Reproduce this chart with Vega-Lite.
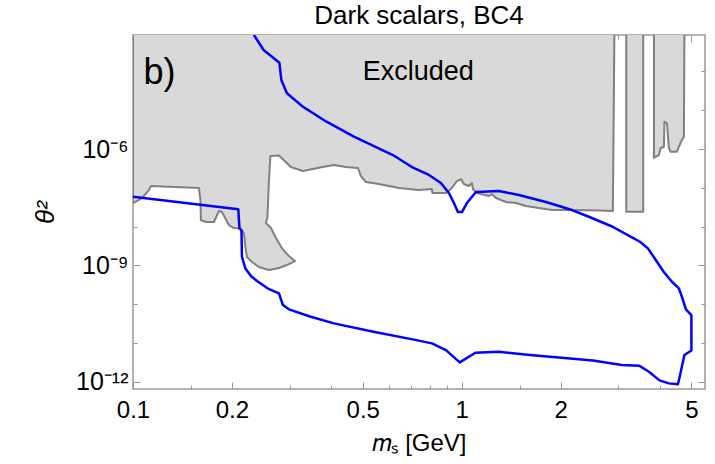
{
  "$schema": "https://vega.github.io/schema/vega-lite/v6.json",
  "autosize": "none",
  "width": 572,
  "height": 354,
  "padding": {"left": 133, "top": 35, "right": 10, "bottom": 75},
  "config": {"view": {"stroke": "#999999", "strokeWidth": 1.5}, "font": "Liberation Sans"},
  "title": {"text": "Dark scalars, BC4", "fontSize": 26, "font": "Liberation Sans", "fontWeight": "normal", "color": "#000000", "baseline": "bottom", "offset": 4, "dy": 24, "anchor": "middle"},
  "datasets": {
    "gray": [
      {"poly": "A", "i": 0, "m": 0.1, "t": 8.7e-4},
      {"poly": "A", "i": 1, "m": 0.1, "t": 4.05e-8},
      {"poly": "A", "i": 2, "m": 0.1065, "t": 5.45e-8},
      {"poly": "A", "i": 3, "m": 0.1118, "t": 8.76e-8},
      {"poly": "A", "i": 4, "m": 0.1134, "t": 1.11e-7},
      {"poly": "A", "i": 5, "m": 0.1587, "t": 9.87e-8},
      {"poly": "A", "i": 6, "m": 0.1604, "t": 4.84e-8},
      {"poly": "A", "i": 7, "m": 0.1609, "t": 1.476e-8},
      {"poly": "A", "i": 8, "m": 0.1667, "t": 1.311e-8},
      {"poly": "A", "i": 9, "m": 0.1763, "t": 1.311e-8},
      {"poly": "A", "i": 10, "m": 0.1826, "t": 2.52e-8},
      {"poly": "A", "i": 11, "m": 0.1865, "t": 2.37e-8},
      {"poly": "A", "i": 12, "m": 0.1958, "t": 1.097e-8},
      {"poly": "A", "i": 13, "m": 0.2028, "t": 9.18e-9},
      {"poly": "A", "i": 14, "m": 0.2101, "t": 8.91e-9},
      {"poly": "A", "i": 15, "m": 0.2146, "t": 8.15e-9},
      {"poly": "A", "i": 16, "m": 0.2176, "t": 6.43e-9},
      {"poly": "A", "i": 17, "m": 0.2198, "t": 2.97e-9},
      {"poly": "A", "i": 18, "m": 0.2222, "t": 1.64e-9},
      {"poly": "A", "i": 19, "m": 0.2301, "t": 1.22e-9},
      {"poly": "A", "i": 20, "m": 0.2415, "t": 9.06e-10},
      {"poly": "A", "i": 21, "m": 0.2592, "t": 7.58e-10},
      {"poly": "A", "i": 22, "m": 0.278, "t": 8.54e-10},
      {"poly": "A", "i": 23, "m": 0.2939, "t": 1.02e-9},
      {"poly": "A", "i": 24, "m": 0.311, "t": 1.294e-9},
      {"poly": "A", "i": 25, "m": 0.2981, "t": 1.74e-9},
      {"poly": "A", "i": 26, "m": 0.2838, "t": 2.8e-9},
      {"poly": "A", "i": 27, "m": 0.2722, "t": 5.07e-9},
      {"poly": "A", "i": 28, "m": 0.2629, "t": 9.18e-9},
      {"poly": "A", "i": 29, "m": 0.2538, "t": 1.235e-8},
      {"poly": "A", "i": 30, "m": 0.2565, "t": 1.764e-8},
      {"poly": "A", "i": 31, "m": 0.2592, "t": 1.587e-7},
      {"poly": "A", "i": 32, "m": 0.2619, "t": 6.6e-7},
      {"poly": "A", "i": 33, "m": 0.278, "t": 6.8e-7},
      {"poly": "A", "i": 34, "m": 0.3023, "t": 3.43e-7},
      {"poly": "A", "i": 35, "m": 0.3289, "t": 2.71e-7},
      {"poly": "A", "i": 36, "m": 0.3527, "t": 3.05e-7},
      {"poly": "A", "i": 37, "m": 0.3771, "t": 3.43e-7},
      {"poly": "A", "i": 38, "m": 0.4087, "t": 3.87e-7},
      {"poly": "A", "i": 39, "m": 0.4444, "t": 3.43e-7},
      {"poly": "A", "i": 40, "m": 0.4835, "t": 3.24e-7},
      {"poly": "A", "i": 41, "m": 0.4938, "t": 2.01e-7},
      {"poly": "A", "i": 42, "m": 0.5113, "t": 1.41e-7},
      {"poly": "A", "i": 43, "m": 0.5602, "t": 1.252e-7},
      {"poly": "A", "i": 44, "m": 0.6442, "t": 9.87e-8},
      {"poly": "A", "i": 45, "m": 0.7411, "t": 8.77e-8},
      {"poly": "A", "i": 46, "m": 0.8118, "t": 9.3e-8},
      {"poly": "A", "i": 47, "m": 0.8148, "t": 7.33e-8},
      {"poly": "A", "i": 48, "m": 0.8956, "t": 7.33e-8},
      {"poly": "A", "i": 49, "m": 0.9339, "t": 9.87e-8},
      {"poly": "A", "i": 50, "m": 0.9673, "t": 1.496e-7},
      {"poly": "A", "i": 51, "m": 0.9947, "t": 1.684e-7},
      {"poly": "A", "i": 52, "m": 1.016, "t": 1.252e-7},
      {"poly": "A", "i": 53, "m": 1.052, "t": 1.111e-7},
      {"poly": "A", "i": 54, "m": 1.0745, "t": 1.328e-7},
      {"poly": "A", "i": 55, "m": 1.082, "t": 9.3e-8},
      {"poly": "A", "i": 56, "m": 1.1127, "t": 7.33e-8},
      {"poly": "A", "i": 57, "m": 1.2103, "t": 6.14e-8},
      {"poly": "A", "i": 58, "m": 1.236, "t": 6.91e-8},
      {"poly": "A", "i": 59, "m": 1.2714, "t": 5.45e-8},
      {"poly": "A", "i": 60, "m": 1.3634, "t": 4.3e-8},
      {"poly": "A", "i": 61, "m": 1.4622, "t": 4.05e-8},
      {"poly": "A", "i": 62, "m": 1.5688, "t": 3.39e-8},
      {"poly": "A", "i": 63, "m": 1.718, "t": 3.01e-8},
      {"poly": "A", "i": 64, "m": 1.882, "t": 2.67e-8},
      {"poly": "A", "i": 65, "m": 2.165, "t": 2.67e-8},
      {"poly": "A", "i": 66, "m": 2.616, "t": 2.6e-8},
      {"poly": "A", "i": 67, "m": 2.884, "t": 2.52e-8},
      {"poly": "A", "i": 68, "m": 2.915, "t": 8.7e-4},
      {"poly": "B", "i": 0, "m": 3.168, "t": 8.7e-4},
      {"poly": "B", "i": 1, "m": 3.168, "t": 2.415e-8},
      {"poly": "B", "i": 2, "m": 3.567, "t": 2.415e-8},
      {"poly": "B", "i": 3, "m": 3.567, "t": 8.7e-4},
      {"poly": "C", "i": 0, "m": 3.846, "t": 8.7e-4},
      {"poly": "C", "i": 1, "m": 3.846, "t": 5.97e-7},
      {"poly": "C", "i": 2, "m": 3.982, "t": 7.0e-7},
      {"poly": "C", "i": 3, "m": 4.03, "t": 1.061e-6},
      {"poly": "C", "i": 4, "m": 4.124, "t": 1.146e-6},
      {"poly": "C", "i": 5, "m": 4.139, "t": 5.06e-6},
      {"poly": "C", "i": 6, "m": 4.212, "t": 4.68e-6},
      {"poly": "C", "i": 7, "m": 4.271, "t": 1.061e-6},
      {"poly": "C", "i": 8, "m": 4.322, "t": 8.52e-7},
      {"poly": "C", "i": 9, "m": 4.517, "t": 8.52e-7},
      {"poly": "C", "i": 10, "m": 4.581, "t": 1.146e-6},
      {"poly": "C", "i": 11, "m": 4.678, "t": 1.706e-6},
      {"poly": "C", "i": 12, "m": 4.744, "t": 2.076e-6},
      {"poly": "C", "i": 13, "m": 4.761, "t": 8.7e-4}
    ],
    "blue": [
      {"i": 0, "m": 0.1, "t": 5.89e-8},
      {"i": 1, "m": 0.2091, "t": 2.79e-8},
      {"i": 2, "m": 0.2108, "t": 9.18e-9},
      {"i": 3, "m": 0.2138, "t": 7.91e-9},
      {"i": 4, "m": 0.2145, "t": 1.67e-9},
      {"i": 5, "m": 0.2198, "t": 8.29e-10},
      {"i": 6, "m": 0.2285, "t": 5.31e-10},
      {"i": 7, "m": 0.2383, "t": 3.95e-10},
      {"i": 8, "m": 0.2566, "t": 2.56e-10},
      {"i": 9, "m": 0.278, "t": 1.9e-10},
      {"i": 10, "m": 0.2859, "t": 9.49e-11},
      {"i": 11, "m": 0.2981, "t": 7.35e-11},
      {"i": 12, "m": 0.3474, "t": 4.74e-11},
      {"i": 13, "m": 0.4087, "t": 3.2e-11},
      {"i": 14, "m": 0.539, "t": 1.944e-11},
      {"i": 15, "m": 0.7091, "t": 1.238e-11},
      {"i": 16, "m": 0.8118, "t": 9.76e-12},
      {"i": 17, "m": 0.8956, "t": 6.56e-12},
      {"i": 18, "m": 0.9865, "t": 3.16e-12},
      {"i": 19, "m": 1.1011, "t": 5.59e-12},
      {"i": 20, "m": 1.298, "t": 5.93e-12},
      {"i": 21, "m": 1.6129, "t": 4.88e-12},
      {"i": 22, "m": 2.014, "t": 4.15e-12},
      {"i": 23, "m": 2.508, "t": 3.52e-12},
      {"i": 24, "m": 3.073, "t": 2.69e-12},
      {"i": 25, "m": 3.474, "t": 2.57e-12},
      {"i": 26, "m": 3.713, "t": 1.81e-12},
      {"i": 27, "m": 3.996, "t": 1.085e-12},
      {"i": 28, "m": 4.271, "t": 9.08e-13},
      {"i": 29, "m": 4.549, "t": 8.61e-13},
      {"i": 30, "m": 4.59, "t": 1.172e-12},
      {"i": 31, "m": 4.761, "t": 4.88e-12},
      {"i": 32, "m": 5.0, "t": 6.37e-12},
      {"i": 33, "m": 5.0, "t": 5.24e-11},
      {"i": 34, "m": 4.811, "t": 7.35e-11},
      {"i": 35, "m": 4.678, "t": 1.553e-10},
      {"i": 36, "m": 4.581, "t": 2.56e-10},
      {"i": 37, "m": 4.362, "t": 3.79e-10},
      {"i": 38, "m": 4.116, "t": 6.85e-10},
      {"i": 39, "m": 3.896, "t": 1.373e-9},
      {"i": 40, "m": 3.687, "t": 2.75e-9},
      {"i": 41, "m": 3.486, "t": 4.07e-9},
      {"i": 42, "m": 3.296, "t": 5.28e-9},
      {"i": 43, "m": 2.879, "t": 9.92e-9},
      {"i": 44, "m": 2.438, "t": 1.796e-8},
      {"i": 45, "m": 2.165, "t": 2.67e-8},
      {"i": 46, "m": 1.804, "t": 4.3e-8},
      {"i": 47, "m": 1.4936, "t": 6.51e-8},
      {"i": 48, "m": 1.298, "t": 8.26e-8},
      {"i": 49, "m": 1.105, "t": 7.78e-8},
      {"i": 50, "m": 1.0375, "t": 4.05e-8},
      {"i": 51, "m": 1.0018, "t": 2.37e-8},
      {"i": 52, "m": 0.974, "t": 2.37e-8},
      {"i": 53, "m": 0.947, "t": 4.05e-8},
      {"i": 54, "m": 0.9146, "t": 7.33e-8},
      {"i": 55, "m": 0.8647, "t": 1.328e-7},
      {"i": 56, "m": 0.7952, "t": 2.14e-7},
      {"i": 57, "m": 0.7057, "t": 3.43e-7},
      {"i": 58, "m": 0.6177, "t": 7.0e-7},
      {"i": 59, "m": 0.47, "t": 2.08e-6},
      {"i": 60, "m": 0.3878, "t": 5.06e-6},
      {"i": 61, "m": 0.3289, "t": 1.232e-5},
      {"i": 62, "m": 0.2939, "t": 2.73e-5},
      {"i": 63, "m": 0.2827, "t": 6.02e-5},
      {"i": 64, "m": 0.2788, "t": 1.68e-4},
      {"i": 65, "m": 0.2497, "t": 3.57e-4},
      {"i": 66, "m": 0.2333, "t": 8.7e-4}
    ],
    "notes": [
      {"label": "b)", "m": 0.1076, "t": 4.74e-5},
      {"label": "Excluded", "m": 0.7376, "t": 6.02e-5}
    ]
  },
  "layer": [
    {
      "data": {"name": "gray"},
      "mark": {"type": "line", "fill": "#d9d9d9", "stroke": "#808080", "strokeWidth": 2, "strokeJoin": "round", "clip": true},
      "encoding": {
        "x": {
          "field": "m", "type": "quantitative",
          "scale": {"type": "log", "domain": [0.1, 5.5], "nice": false, "zero": false},
          "axis": {
            "orient": "bottom", "domain": false, "grid": false,
            "values": [0.1, 0.15, 0.2, 0.3, 0.4, 0.5, 0.6, 0.7, 0.8, 0.9, 1, 1.5, 2, 3, 4, 5],
            "tickColor": "#999999", "tickWidth": 1,
            "tickSize": {"condition": {"test": "indexof([0.1,0.2,0.5,1,2,5], datum.value) >= 0", "value": -7}, "value": -4},
            "labelExpr": "indexof([0.1,0.2,0.5,1,2,5], datum.value) >= 0 ? format(datum.value, '~g') : ''",
            "labelFont": "Liberation Sans", "labelFontSize": 24, "labelColor": "#000000",
            "labelPadding": 16, "labelFlush": false, "labelOverlap": false, "labelBaseline": "top",
            "title": "𝑚ₛ [GeV]", "titleFont": "Liberation Sans", "titleFontSize": 24, "titleFontWeight": "normal", "titleColor": "#000000",
            "titleBaseline": "alphabetic", "titleX": 286, "titleY": 61
          }
        },
        "y": {
          "field": "t", "type": "quantitative",
          "scale": {"type": "log", "domain": [6.5e-13, 8.7e-4], "nice": false, "zero": false},
          "axis": {
            "orient": "left", "domain": false, "grid": false,
            "values": [1e-4, 1e-5, 1e-6, 1e-7, 1e-8, 1e-9, 1e-10, 1e-11, 1e-12],
            "tickColor": "#999999", "tickWidth": 1,
            "tickSize": {"condition": {"test": "abs(round(log(datum.value)/LN10)) % 3 == 0", "value": -7}, "value": -4},
            "labelExpr": "round(log(datum.value)/LN10) == -6 ? '10⁻⁶' : (round(log(datum.value)/LN10) == -9 ? '10⁻⁹' : (round(log(datum.value)/LN10) == -12 ? '10⁻¹²' : ''))",
            "labelFont": "Liberation Sans", "labelFontSize": 25, "labelColor": "#000000",
            "labelPadding": 12, "labelFlush": false, "labelOverlap": false, "labelAlign": "right", "labelBaseline": "middle",
            "title": "θ²", "titleFont": "Liberation Sans", "titleFontSize": 26, "titleFontWeight": "normal", "titleFontStyle": "italic", "titleColor": "#000000",
            "titleAngle": 270, "titleBaseline": "alphabetic", "titleX": -80, "titleY": 177
          }
        },
        "detail": {"field": "poly", "type": "nominal"},
        "order": {"field": "i", "type": "quantitative"}
      }
    },
    {
      "data": {"name": "blue"},
      "mark": {"type": "line", "color": "#0000ff", "strokeWidth": 2.5, "strokeJoin": "round", "clip": true},
      "encoding": {
        "x": {
          "field": "m", "type": "quantitative",
          "scale": {"type": "log", "domain": [0.1, 5.5], "nice": false, "zero": false},
          "axis": {
            "orient": "top", "domain": false, "grid": false, "labels": false, "title": null,
            "values": [0.1, 0.15, 0.2, 0.3, 0.4, 0.5, 0.6, 0.7, 0.8, 0.9, 1, 1.5, 2, 3, 4, 5],
            "tickColor": "#999999", "tickWidth": 1,
            "tickSize": {"condition": {"test": "indexof([0.1,0.2,0.5,1,2,5], datum.value) >= 0", "value": -7}, "value": -4}
          }
        },
        "y": {
          "field": "t", "type": "quantitative",
          "scale": {"type": "log", "domain": [6.5e-13, 8.7e-4], "nice": false, "zero": false},
          "axis": {
            "orient": "right", "domain": false, "grid": false, "labels": false, "title": null,
            "values": [1e-4, 1e-5, 1e-6, 1e-7, 1e-8, 1e-9, 1e-10, 1e-11, 1e-12],
            "tickColor": "#999999", "tickWidth": 1,
            "tickSize": {"condition": {"test": "abs(round(log(datum.value)/LN10)) % 3 == 0", "value": -7}, "value": -4}
          }
        },
        "order": {"field": "i", "type": "quantitative"}
      }
    },
    {
      "data": {"name": "notes"},
      "transform": [{"filter": "datum.label == 'b)'"}],
      "mark": {"type": "text", "font": "Liberation Sans", "fontSize": 36, "align": "left", "baseline": "alphabetic", "color": "#000000"},
      "encoding": {
        "x": {"field": "m", "type": "quantitative", "axis": null},
        "y": {"field": "t", "type": "quantitative", "axis": null},
        "text": {"field": "label"}
      }
    },
    {
      "data": {"name": "notes"},
      "transform": [{"filter": "datum.label == 'Excluded'"}],
      "mark": {"type": "text", "font": "Liberation Sans", "fontSize": 27, "align": "center", "baseline": "alphabetic", "color": "#000000"},
      "encoding": {
        "x": {"field": "m", "type": "quantitative", "axis": null},
        "y": {"field": "t", "type": "quantitative", "axis": null},
        "text": {"field": "label"}
      }
    }
  ]
}
